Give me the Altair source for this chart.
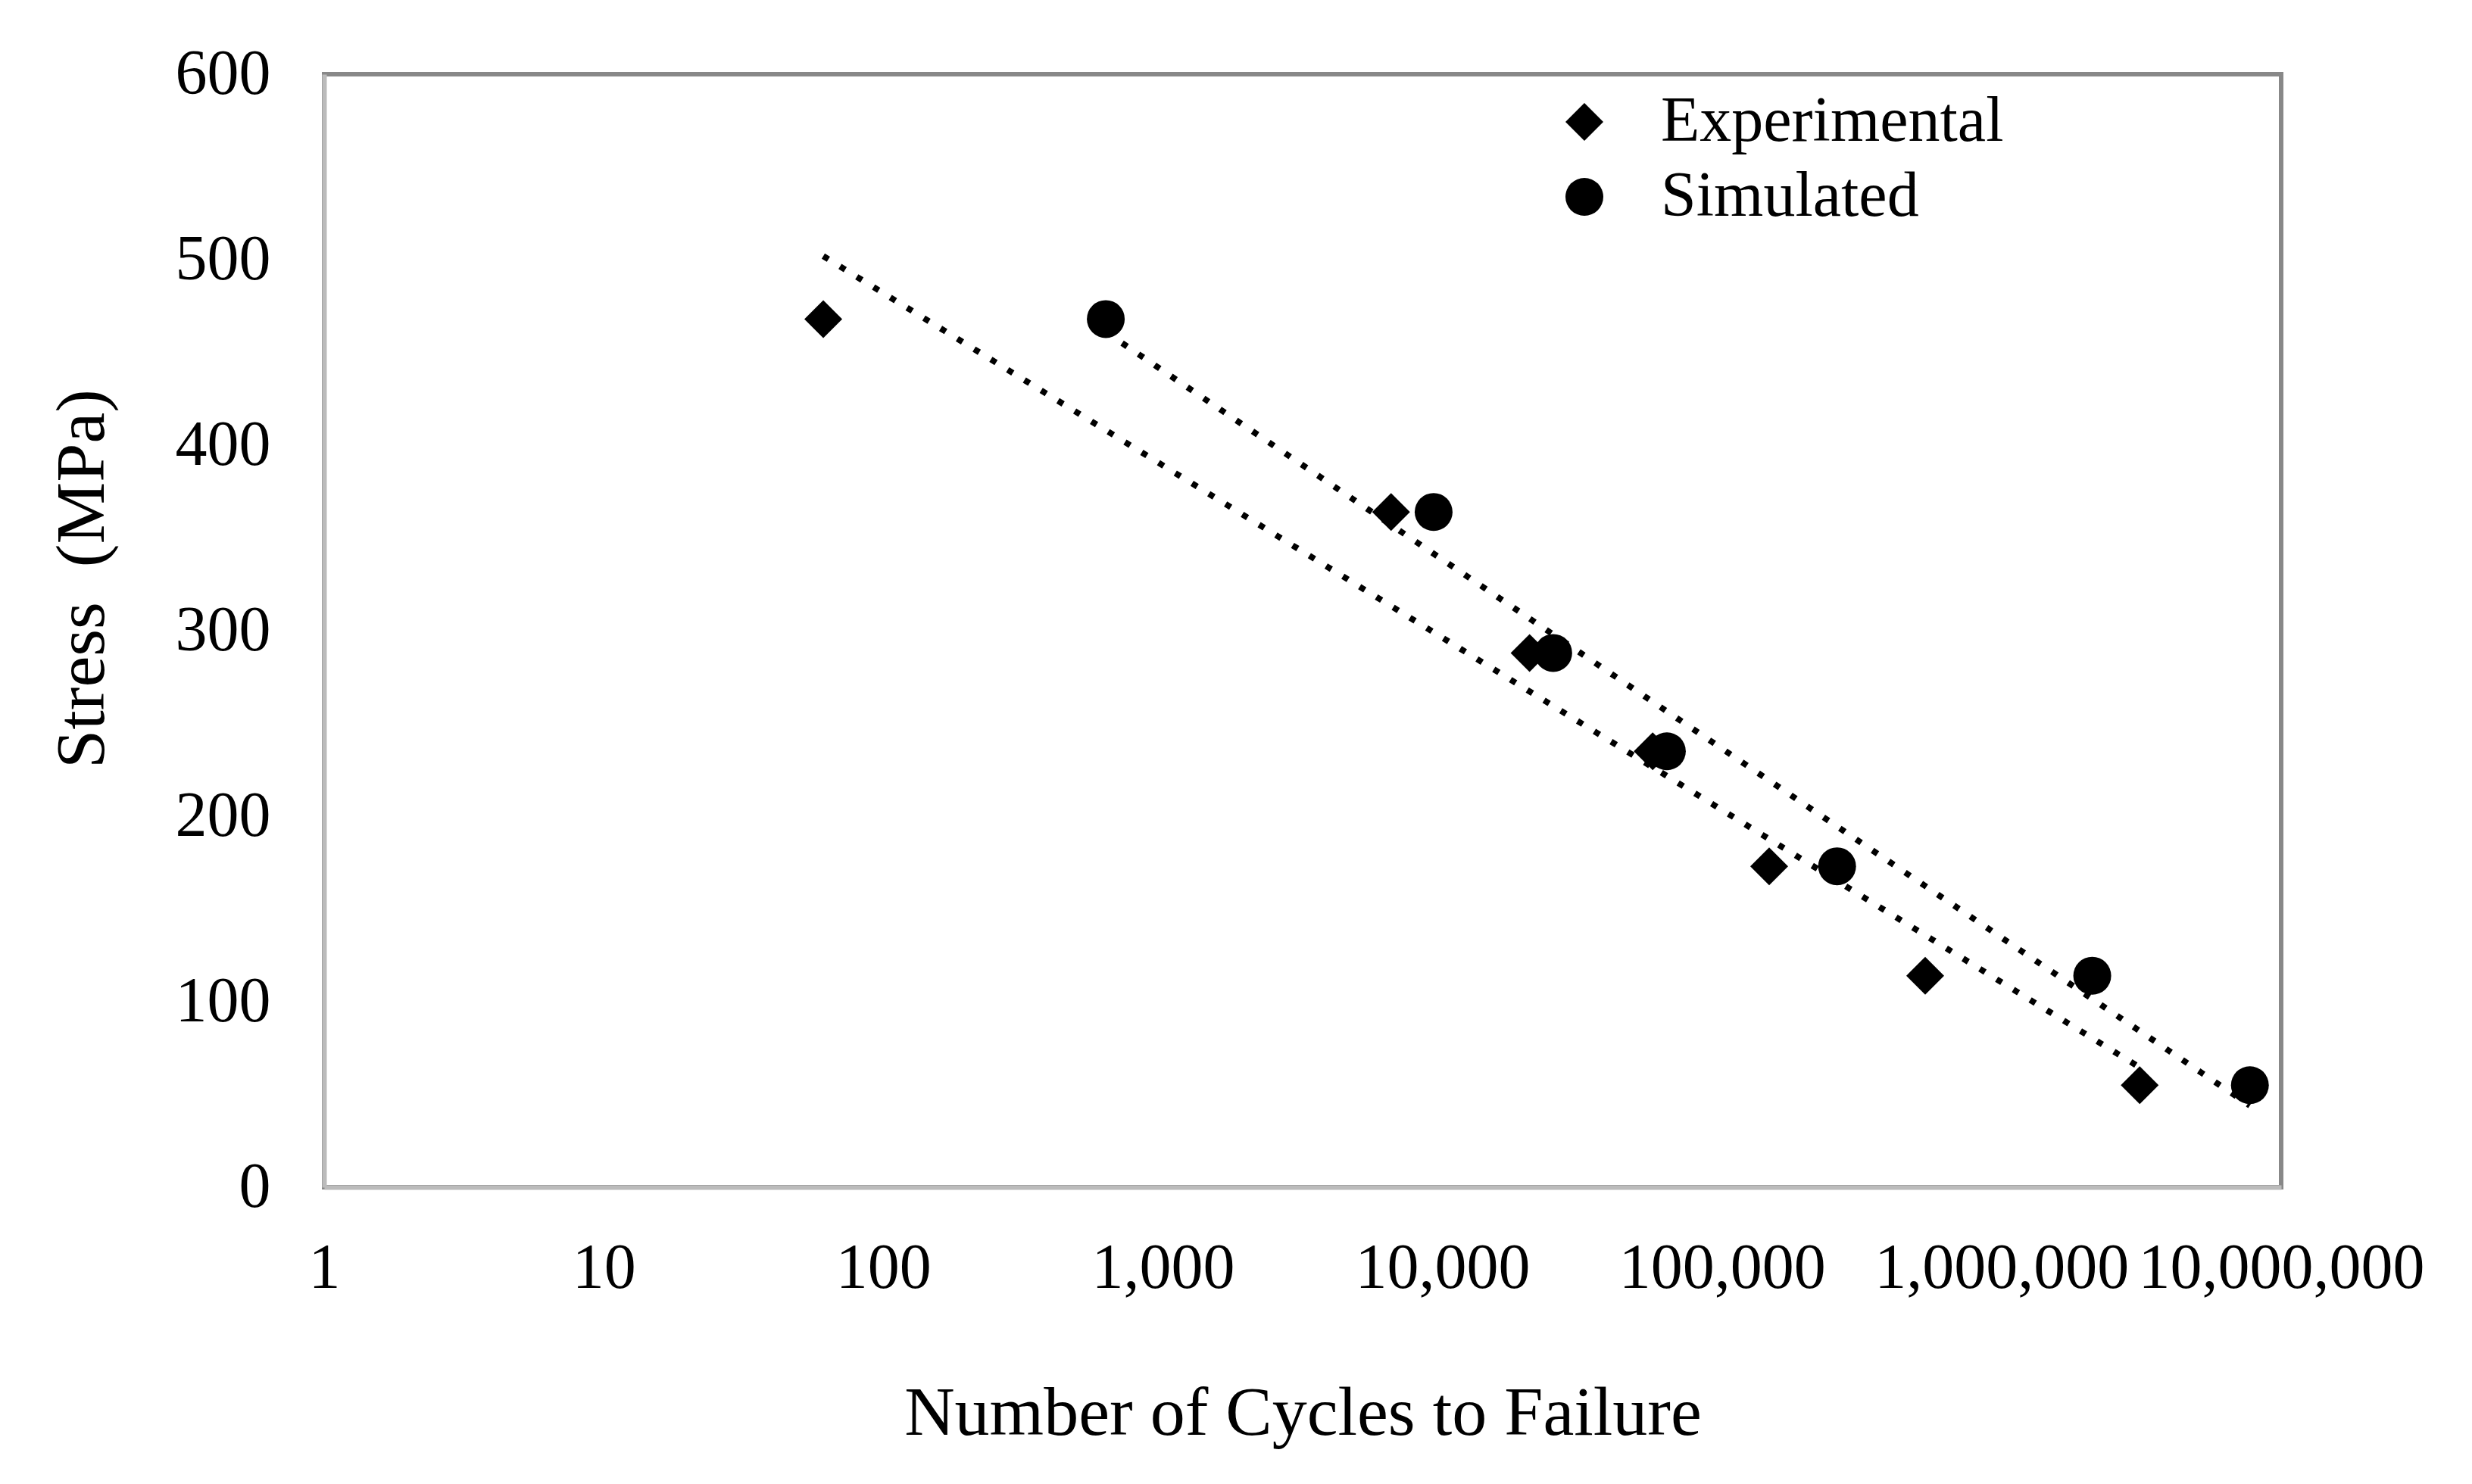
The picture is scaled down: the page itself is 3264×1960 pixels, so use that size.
import altair as alt
import pandas as pd

# ---- data ----
series_names = ["Experimental", "Simulated"]
exp_cycles = [61, 6550, 20500, 56500, 147500, 533000, 3120000]
exp_stress = [468, 364, 288, 235, 173, 114, 55]
sim_cycles = [625, 9300, 24900, 63500, 258000, 2110000, 7730000]
sim_stress = [468, 364, 288, 235, 173, 114, 55]
x_ticks = [1, 10, 100, 1000, 10000, 100000, 1000000, 10000000]
y_ticks = [0, 100, 200, 300, 400, 500, 600]

df = pd.DataFrame(
    {
        "Cycles": exp_cycles + sim_cycles,
        "Stress": exp_stress + sim_stress,
        "Series": [series_names[0]] * len(exp_cycles) + [series_names[1]] * len(sim_cycles),
    }
)

FONT = "Liberation Serif"

x_enc = alt.X(
    "Cycles:Q",
    scale=alt.Scale(type="log", domain=[1, 10000000], nice=False),
    axis=alt.Axis(
        values=x_ticks,
        format=",",
        title="Number of Cycles to Failure",
        ticks=False,
        grid=False,
        labelPadding=66,
        labelFlush=False,
        labelOverlap=False,
        labelBound=False,
        labelLimit=0,
        titleX=1292,
        titleY=298,
        titleAlign="center",
        titleBaseline="middle",
    ),
)
y_enc = alt.Y(
    "Stress:Q",
    scale=alt.Scale(domain=[0, 600], nice=False),
    axis=alt.Axis(
        values=y_ticks,
        title="Stress\u00a0 (MPa)",
        ticks=False,
        grid=False,
        labelPadding=71,
        labelLimit=0,
        titleX=-320,
        titleY=666,
        titleAngle=-90,
        titleAlign="center",
        titleBaseline="middle",
    ),
)

base = alt.Chart(df)

lines = (
    base.transform_regression("Cycles", "Stress", method="log", groupby=["Series"])
    .mark_line(color="black", strokeDash=[8, 18], strokeWidth=8, strokeCap="butt")
    .encode(x=x_enc, y=y_enc, detail="Series:N")
)

points = base.mark_point(filled=True, opacity=1, color="black", size=2500, strokeWidth=0).encode(
    x=x_enc,
    y=y_enc,
    shape=alt.Shape(
        "Series:N",
        scale=alt.Scale(domain=series_names, range=["diamond", "circle"]),
        legend=alt.Legend(
            title=None,
            orient="none",
            legendX=1622,
            legendY=21,
            symbolSize=2500,
            symbolFillColor="black",
            symbolStrokeColor="black",
            symbolStrokeWidth=0,
            labelFont=FONT,
            labelFontSize=84,
            labelColor="#000",
            labelOffset=59,
            labelLimit=0,
            labelBaseline="middle",
            rowPadding=15,
            padding=0,
        ),
    ),
)

chart = (
    alt.layer(lines, points)
    .properties(
        width=2584,
        height=1470,
        padding={"left": 420, "top": 90, "right": 240, "bottom": 380},
        autosize=alt.AutoSizeParams(type="none"),
        background="white",
    )
    .configure_view(stroke="#888888", strokeWidth=6)
    .configure_axis(
        domainColor="#bbbbbb",
        domainWidth=6,
        labelFont=FONT,
        titleFont=FONT,
        labelFontSize=84,
        titleFontSize=92,
        labelColor="#000",
        titleColor="#000",
        titleFontWeight="normal",
    )
)

chart.save("out.html", embed_options={"renderer": "svg", "actions": False})
